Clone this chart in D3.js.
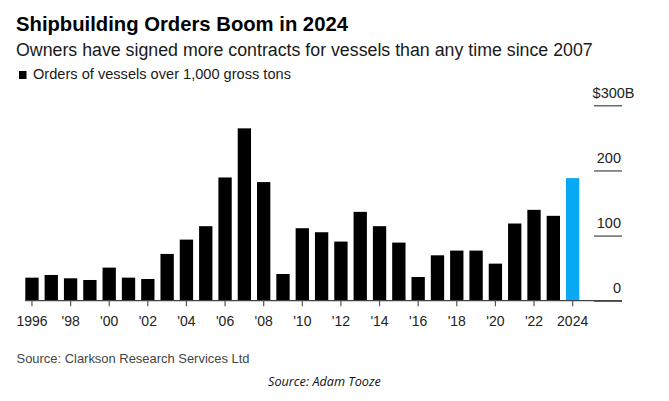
<!DOCTYPE html>
<html>
<head>
<meta charset="utf-8">
<script src="https://cdn.jsdelivr.net/npm/d3@7"></script>
<style>
  html, body { margin: 0; padding: 0; background: #fff; }
  svg { display: block; }
</style>
</head>
<body>
<svg id="chart" width="669" height="401"></svg>
<script>
// ---- data ----
const years = d3.range(1996, 2025);
const orders = [35.4, 39.5, 34.4, 31.8, 50.8, 35.4, 33.3, 71.8, 93.8, 114.4,
                189.2, 264.6, 182.1, 41.0, 111.3, 105.1, 90.8, 136.4, 114.4, 89.2,
                36.4, 69.7, 76.9, 76.9, 56.9, 118.5, 139.5, 130.3, 188.2];
const highlightYear = 2024;
const yTicks = [0, 100, 200, 300];
const xTickYears = [1996, 1998, 2000, 2002, 2004, 2006, 2008, 2010, 2012, 2014, 2016, 2018, 2020, 2022, 2024];

const titleText = "Shipbuilding Orders Boom in 2024";
const subtitleText = "Owners have signed more contracts for vessels than any time since 2007";
const legendText = "Orders of vessels over 1,000 gross tons";
const sourceText = "Source: Clarkson Research Services Ltd";
const creditText = "Source: Adam Tooze";

const data = years.map((y, i) => ({ year: y, value: orders[i] }));

const svg = d3.select("#chart");
const sans = "'Liberation Sans', Arial, Helvetica, sans-serif";

function fitText(sel, targetWidth) {
  const base = parseFloat(sel.attr("font-size"));
  const w = sel.node().getComputedTextLength();
  sel.attr("font-size", (base * targetWidth / w).toFixed(2));
  return sel;
}

// ---- header ----
fitText(svg.append("text").attr("x", 16).attr("y", 30.7)
  .attr("font-family", sans).attr("font-weight", "bold").attr("font-size", 20)
  .attr("fill", "#000").text(titleText), 332);

fitText(svg.append("text").attr("x", 16).attr("y", 56)
  .attr("font-family", sans).attr("font-size", 17)
  .attr("fill", "#1a1a1a").text(subtitleText), 577);

svg.append("rect").attr("x", 19).attr("y", 71).attr("width", 7.5).attr("height", 8).attr("fill", "#000");
fitText(svg.append("text").attr("x", 33).attr("y", 79)
  .attr("font-family", sans).attr("font-size", 13)
  .attr("fill", "#1a1a1a").text(legendText), 258);

// ---- scales ----
const x = d3.scaleBand().domain(years).range([25.3, 579.3]).paddingInner(0.31).paddingOuter(0);
const y = d3.scaleLinear().domain([0, 300]).range([300.7, 105.3]);

// ---- y axis (right) ----
const yAxis = d3.axisRight(y).tickValues(yTicks).tickSize(28)
  .tickFormat(d => d === 300 ? "$300B" : String(d));
const gy = svg.append("g").attr("transform", "translate(594,0)").call(yAxis);
gy.select(".domain").remove();
gy.selectAll(".tick line").attr("stroke", "#444").attr("stroke-width", 1.2);
gy.selectAll(".tick text")
  .attr("font-family", sans).attr("font-size", 14.5).attr("fill", "#222")
  .attr("text-anchor", "end")
  .attr("x", d => d === 300 ? 40.5 : 27)
  .attr("dy", -8.3);

// ---- bars ----
svg.append("g").selectAll("rect").data(data).join("rect")
  .attr("x", d => x(d.year))
  .attr("width", x.bandwidth())
  .attr("y", d => y(d.value))
  .attr("height", d => y(0) - y(d.value))
  .attr("fill", d => d.year === highlightYear ? "#0aa9f4" : "#000");

// ---- baseline ----
svg.append("line").attr("x1", 25.3).attr("x2", 622)
  .attr("y1", y(0)).attr("y2", y(0))
  .attr("stroke", "#444").attr("stroke-width", 1.3);

// ---- x axis ----
const xAxis = d3.axisBottom(x).tickValues(xTickYears).tickSize(5.5)
  .tickFormat(d => (d === 1996 || d === 2024) ? String(d) : "'" + String(d).slice(2));
const gx = svg.append("g").attr("transform", `translate(0,${y(0)})`).call(xAxis);
gx.select(".domain").remove();
gx.selectAll(".tick line").attr("stroke", "#555").attr("stroke-width", 1.2);
gx.selectAll(".tick text")
  .attr("font-family", sans).attr("font-size", 14).attr("fill", "#222")
  .attr("dy", 0).attr("y", 25);

// ---- footer ----
fitText(svg.append("text").attr("x", 16.5).attr("y", 363.3)
  .attr("font-family", sans).attr("font-size", 12)
  .attr("fill", "#444").text(sourceText), 233);

fitText(svg.append("text").attr("x", 268).attr("y", 386)
  .attr("font-family", "'Open Sans', sans-serif").attr("font-style", "italic").attr("font-size", 12)
  .attr("fill", "#111").text(creditText), 113);
</script>
</body>
</html>
